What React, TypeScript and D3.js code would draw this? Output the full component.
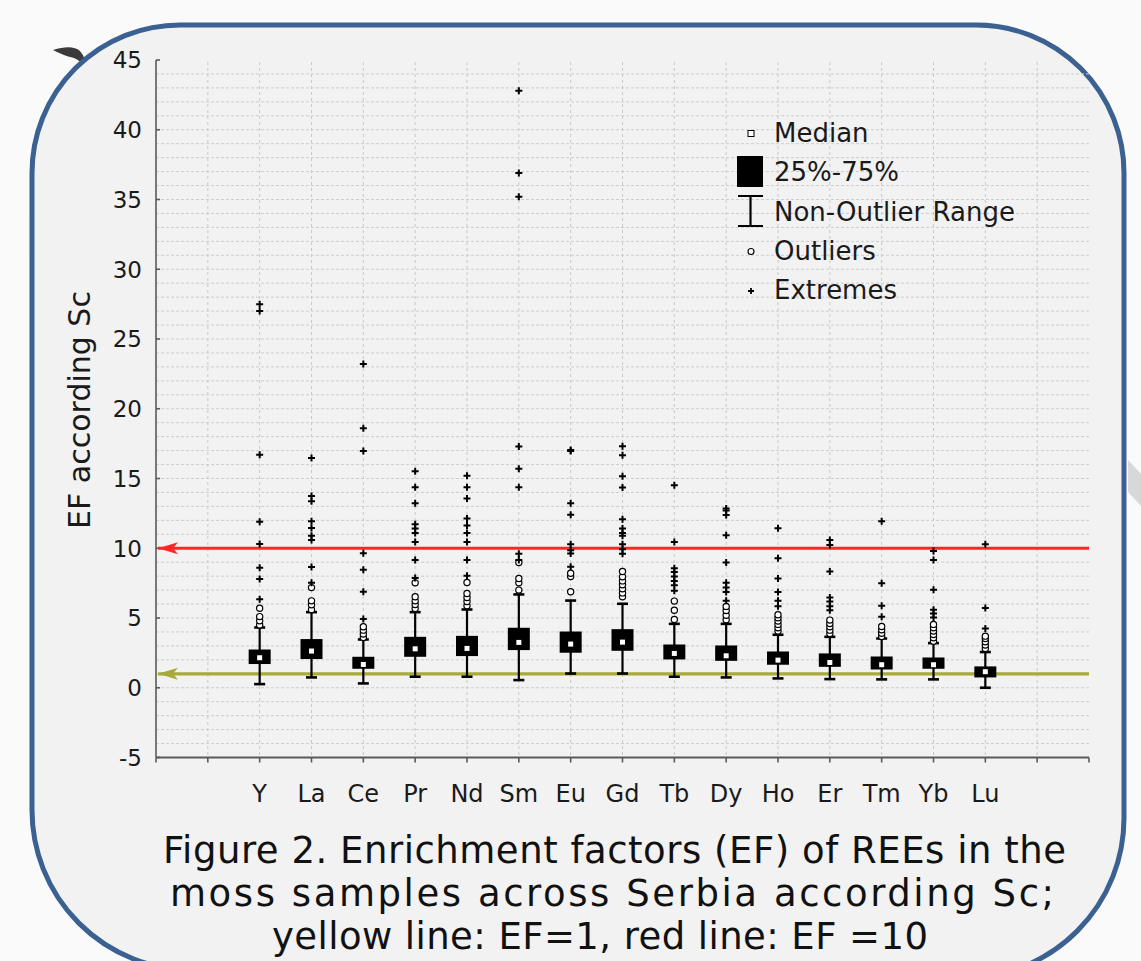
import React from 'react';
import * as d3 from 'd3';

// rare earth elements, EF according Sc
const categories = ['Y', 'La', 'Ce', 'Pr', 'Nd', 'Sm', 'Eu', 'Gd', 'Tb', 'Dy', 'Ho', 'Er', 'Tm', 'Yb', 'Lu'];

const whiskerLow = [0.26, 0.74, 0.31, 0.79, 0.79, 0.55, 1.02, 1.02, 0.79, 0.74, 0.67, 0.62, 0.6, 0.6, 0.0];
const q1 = [1.7, 2.06, 1.36, 2.22, 2.27, 2.7, 2.51, 2.65, 2.03, 1.93, 1.65, 1.5, 1.31, 1.36, 0.74];
const medians = [2.15, 2.63, 1.67, 2.79, 2.82, 3.25, 3.13, 3.27, 2.46, 2.29, 1.98, 1.81, 1.65, 1.65, 1.15];
const q3 = [2.74, 3.49, 2.22, 3.65, 3.72, 4.3, 4.03, 4.2, 3.1, 3.03, 2.6, 2.46, 2.24, 2.17, 1.53];
const whiskerHigh = [4.32, 5.42, 3.46, 5.42, 5.61, 6.69, 6.25, 6.02, 4.58, 4.58, 3.8, 3.65, 3.53, 3.2, 2.56];

const outliers = [
  [4.5, 4.8, 5.1, 5.7],
  [5.6, 5.95, 6.23, 7.18],
  [3.6, 3.85, 4.13, 4.37],
  [5.68, 5.97, 6.23, 6.52, 7.52],
  [5.87, 6.18, 6.47, 6.76, 7.55],
  [7.0, 7.52, 7.83, 8.98],
  [6.88, 7.97, 8.21],
  [6.52, 6.8, 7.09, 7.38, 7.66, 7.95, 8.33],
  [4.89, 5.56, 6.21],
  [4.87, 5.2, 5.54, 5.83],
  [4.06, 4.3, 4.54, 4.78, 5.01, 5.23],
  [3.89, 4.13, 4.37, 4.61, 4.85],
  [3.67, 3.91, 4.15, 4.39],
  [3.34, 3.58, 3.82, 4.06, 4.3, 4.54],
  [2.82, 3.06, 3.3, 3.53, 3.7],
];

const extremes = [
  [6.35, 7.8, 8.6, 10.3, 11.9, 16.7, 27.0, 27.5],
  [7.52, 8.65, 10.6, 10.9, 11.46, 11.94, 13.37, 13.75, 16.47],
  [4.92, 6.88, 8.45, 9.65, 16.98, 18.6, 23.2],
  [7.86, 9.15, 10.44, 11.1, 11.41, 11.72, 13.23, 14.38, 15.52],
  [8.02, 9.15, 10.44, 11.1, 11.63, 12.13, 13.56, 14.38, 15.19],
  [9.15, 9.6, 14.38, 15.69, 17.3, 35.2, 36.9, 42.8],
  [8.67, 9.62, 9.86, 10.29, 12.41, 13.23, 16.98, 17.05],
  [9.6, 9.93, 10.29, 10.89, 11.1, 11.41, 12.08, 14.35, 15.16, 16.67, 17.31],
  [6.95, 7.35, 7.66, 7.97, 8.29, 8.57, 10.44, 14.52],
  [6.23, 6.86, 7.18, 7.52, 8.98, 10.94, 12.39, 12.7, 12.85],
  [5.85, 6.23, 6.86, 7.83, 9.29, 11.44],
  [5.56, 5.85, 6.18, 6.47, 8.33, 10.24, 10.6],
  [5.09, 5.87, 7.5, 11.94],
  [5.04, 5.32, 5.59, 7.02, 9.15, 9.81],
  [4.25, 5.71, 10.29],
];

const yTicks = [-5, 0, 5, 10, 15, 20, 25, 30, 35, 40, 45];
const refLines = [
  { value: 10, color: '#ff2626' },
  { value: 1, color: '#a8aa3a' },
];

const captionLines = [
  'Figure 2. Enrichment factors (EF) of REEs in the',
  'moss samples across Serbia according Sc;',
  'yellow line: EF=1, red line: EF =10',
];
// where each caption line starts and how wide it runs
const captionStart = [163, 170, 272];
const captionWidth = [903, 884, 656];

const legendItems = ['Median', '25%-75%', 'Non-Outlier Range', 'Outliers', 'Extremes'];

const W = 1141;
const H = 961;
const FONT = '"DejaVu Sans", sans-serif';

export default function App() {
  const x = d3.scaleLinear().domain([0, 18]).range([156, 1089]);
  const y = d3.scaleLinear().domain([-5, 45]).range([757.5, 60]);
  const cx = (i: number) => x(i + 2);

  const hGrid = d3.range(-4, 45);
  const vGrid = d3.range(1, 18);
  const xTicks = d3.range(0, 19);

  const boxW = 22;
  const capW = 11;

  // slide frame, corners a bit uneven like the photographed slide
  const frame = 'M32,173 A148,148 0 0 1 180,25 L976,25 A148,148 0 0 1 1124,173 L1124,818 ' +
    'A160,160 0 0 1 964,978 L192,970 A160,160 0 0 1 32,810 Z';

  return (
    <svg width={W} height={H} style={{ position: 'absolute', left: 0, top: 0, display: 'block' }}>
      <rect x={0} y={0} width={W} height={H} fill="#fafafa" />
      {/* bits of the slide background */}
      <path d="M53,50 Q72,44 80,51 Q86,58 86,68 Q80,60 74,58 Q62,55 53,50 Z" fill="#3a3a3a" />
      <path d="M1128,460 L1141,474 L1141,506 L1128,492 Z" fill="#c9c9c9" opacity={0.7} />

      <path d={frame} fill="#f2f2f2" stroke="#3b6192" strokeWidth={5} />

      {/* grid */}
      {hGrid.map((v) => (
        <line key={'h' + v} x1={x(0)} x2={x(18)} y1={y(v)} y2={y(v)}
          stroke="#cdcdcd" strokeWidth={1} strokeDasharray="3,2" />
      ))}
      {vGrid.map((v) => (
        <line key={'v' + v} x1={x(v)} x2={x(v)} y1={62} y2={y(-5)}
          stroke="#c9c9c9" strokeWidth={1} strokeDasharray="3,3" />
      ))}

      {/* axes */}
      <line x1={x(0)} x2={x(0)} y1={y(45)} y2={y(-5)} stroke="#5a5a5a" strokeWidth={1.6} />
      <line x1={x(0)} x2={x(18)} y1={y(-5)} y2={y(-5)} stroke="#5a5a5a" strokeWidth={2} />
      {yTicks.map((t) => (
        <g key={'yt' + t}>
          <line x1={x(0)} x2={x(0) + 4} y1={y(t)} y2={y(t)} stroke="#5a5a5a" strokeWidth={1.6} />
          <text x={142} y={y(t)} dy="0.36em" textAnchor="end" fontFamily={FONT}
            fontSize={23} fill="#1a1a1a">{t}</text>
        </g>
      ))}
      {xTicks.map((t) => (
        <line key={'xt' + t} x1={x(t)} x2={x(t)} y1={y(-5)} y2={y(-5) + 5}
          stroke="#5a5a5a" strokeWidth={1.6} />
      ))}
      {categories.map((c, i) => (
        <text key={'xl' + c} x={cx(i)} y={802} textAnchor="middle" fontFamily={FONT}
          fontSize={24} fill="#1a1a1a">{c}</text>
      ))}
      <text transform="translate(90,410) rotate(-90)" textAnchor="middle" fontFamily={FONT}
        fontSize={30} fill="#1a1a1a">EF according Sc</text>

      {/* reference lines */}
      {refLines.map((r) => {
        const yy = y(r.value);
        const x0 = x(0) + 2;
        return (
          <g key={'ref' + r.value}>
            <line x1={x0} x2={x(18)} y1={yy} y2={yy} stroke={r.color} strokeWidth={3.2} />
            <path d={`M${x0},${yy} L${x0 + 20},${yy - 6} L${x0 + 15},${yy} L${x0 + 20},${yy + 6} Z`}
              fill={r.color} />
          </g>
        );
      })}

      {/* boxes */}
      {categories.map((c, i) => {
        const px = cx(i);
        return (
          <g key={'box' + c}>
            <line x1={px} x2={px} y1={y(whiskerLow[i])} y2={y(whiskerHigh[i])} stroke="#000" strokeWidth={2.2} />
            <line x1={px - capW / 2} x2={px + capW / 2} y1={y(whiskerLow[i])} y2={y(whiskerLow[i])}
              stroke="#000" strokeWidth={2.6} />
            <line x1={px - capW / 2} x2={px + capW / 2} y1={y(whiskerHigh[i])} y2={y(whiskerHigh[i])}
              stroke="#000" strokeWidth={2.6} />
            <rect x={px - boxW / 2} y={y(q3[i])} width={boxW} height={y(q1[i]) - y(q3[i])} fill="#000" />
            <rect x={px - 2.5} y={y(medians[i]) - 2.5} width={5} height={5} fill="#fff" />
            {outliers[i].map((v, k) => (
              <circle key={'o' + k} cx={px} cy={y(v)} r={3.1} fill="#fff" stroke="#000" strokeWidth={1.2} />
            ))}
            {extremes[i].map((v, k) => (
              <path key={'e' + k} d={`M${px - 3.5},${y(v)} H${px + 3.5} M${px},${y(v) - 3.5} V${y(v) + 3.5}`}
                stroke="#000" strokeWidth={2} />
            ))}
          </g>
        );
      })}

      {/* legend */}
      <g fontFamily={FONT} fontSize={26} fill="#1a1a1a">
        <rect x={748} y={130.5} width={6} height={6} fill="#fff" stroke="#000" strokeWidth={1} />
        <rect x={737} y={156} width={26} height={31} fill="#000" />
        <path d="M738,196 H763 M750.5,196 V226 M738,226 H763" stroke="#000" strokeWidth={2.2} fill="none" />
        <circle cx={751} cy={251.5} r={3} fill="#fff" stroke="#000" strokeWidth={1.1} />
        <path d="M748,291 H754 M751,288 V294" stroke="#000" strokeWidth={1.8} />
        {legendItems.map((t, k) => (
          <text key={'lg' + k} x={774} y={142 + k * 39.3}>{t}</text>
        ))}
      </g>

      {/* caption */}
      {captionLines.map((t, k) => (
        <text key={'cap' + k} x={captionStart[k]} y={863 + k * 43} fontFamily={FONT}
          fontSize={37} fill="#111" textLength={captionWidth[k]} lengthAdjust="spacing">{t}</text>
      ))}
    </svg>
  );
}
